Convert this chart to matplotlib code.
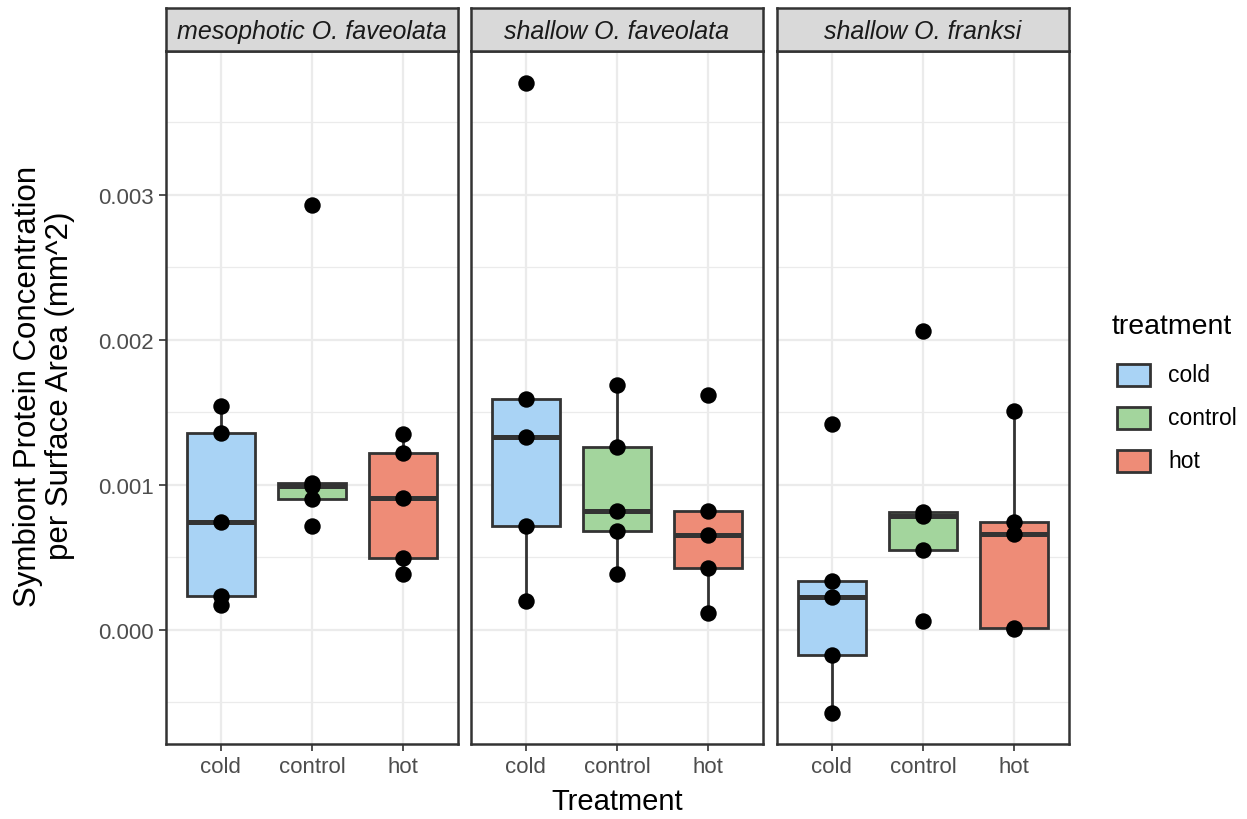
import numpy as np
import matplotlib
matplotlib.use("Agg")
import matplotlib.pyplot as plt
from matplotlib.patches import Rectangle

plt.rcParams['font.family'] = ['Liberation Sans', 'DejaVu Sans']

# data (units of mg/mm^2)
species = ['mesophotic O. faveolata', 'shallow O. faveolata', 'shallow O. franksi']
treatments = ['cold', 'control', 'hot']

meso_fav = {
    'cold': [0.00154, 0.00136, 0.00074, 0.000234, 0.00017],
    'control': [0.00293, 0.00101, 0.00099, 0.000899, 0.000714],
    'hot': [0.00135, 0.00122, 0.000906, 0.000493, 0.000382],
}
shal_fav = {
    'cold': [0.00377, 0.00159, 0.00133, 0.000716, 0.000197],
    'control': [0.00169, 0.00126, 0.000821, 0.000681, 0.000382],
    'hot': [0.00162, 0.000821, 0.000654, 0.000427, 0.000119],
}
shal_fra = {
    'cold': [0.00142, 0.000338, 0.000223, -0.000172, -0.00057],
    'control': [0.00206, 0.000809, 0.000786, 0.000547, 0.000064],
    'hot': [0.00151, 0.000743, 0.00066, 0.000016, 0.000008],
}
panels = [meso_fav, shal_fav, shal_fra]

fills = {'cold': '#a9d3f5', 'control': '#a3d59d', 'hot': '#ee8c77'}
dark = '#333333'
grid_c = '#ebebeb'

W, H = 1247, 820
fig = plt.figure(figsize=(W / 100, H / 100), dpi=100)

def box(x0, y0, x1, y1):
    return [x0 / W, 1 - y1 / H, (x1 - x0) / W, (y1 - y0) / H]

lefts = [166, 471, 777]
pw = 292
ptop, pbot = 52, 745
stop = 9

ylo, yhi = -0.000787, 0.003990

for i, (name, data) in enumerate(zip(species, panels)):
    x0 = lefts[i]
    ax = fig.add_axes(box(x0, ptop, x0 + pw, pbot))

    vals = [data[t] for t in treatments]
    bp = ax.boxplot(vals, positions=[1, 2, 3], widths=0.75, whis=1.5,
                    patch_artist=True, showfliers=False, showcaps=False,
                    medianprops=dict(color=dark, lw=3.6, solid_capstyle='butt'),
                    whiskerprops=dict(color=dark, lw=2.0),
                    boxprops=dict(edgecolor=dark, lw=2.0), zorder=2)
    for patch, t in zip(bp['boxes'], treatments):
        patch.set_facecolor(fills[t])
    for k, t in enumerate(treatments):
        ax.scatter([k + 1] * len(data[t]), data[t], s=140, color='black',
                   zorder=4, linewidths=0)

    ax.set_xlim(0.4, 3.6)
    ax.set_ylim(ylo, yhi)
    ax.set_yticks([0, 0.001, 0.002, 0.003])
    ax.set_yticks(np.arange(-0.0005, 0.004, 0.001), minor=True)
    ax.set_xticks([1, 2, 3])
    ax.set_xticklabels(treatments)
    ax.grid(True, which='major', color=grid_c, lw=1.6, zorder=0)
    ax.grid(True, which='minor', axis='y', color=grid_c, lw=0.9, zorder=0)
    ax.set_axisbelow(True)
    for s in ax.spines.values():
        s.set_color(dark)
        s.set_linewidth(1.8)
    ax.tick_params(axis='both', which='major', colors=dark, labelcolor='#4d4d4d',
                   labelsize=16, length=5, width=1.2, pad=4)
    ax.tick_params(axis='y', which='minor', length=0)
    if i == 0:
        ax.yaxis.set_major_formatter(matplotlib.ticker.FormatStrFormatter('%.3f'))
    else:
        ax.tick_params(axis='y', which='major', length=0, labelleft=False)

    # facet strip
    sax = fig.add_axes(box(x0, stop, x0 + pw, ptop))
    sax.set_xticks([])
    sax.set_yticks([])
    sax.set_facecolor('#d9d9d9')
    for s in sax.spines.values():
        s.set_color(dark)
        s.set_linewidth(1.8)
    sax.text(0.5, 0.47, name, transform=sax.transAxes, ha='center', va='center',
             fontsize=18, style='italic', color='#1a1a1a')

fig.text(44 / W, 1 - 386 / H,
         'Symbiont Protein Concentration\nper Surface Area (mm^2)',
         rotation=90, ha='center', va='center', fontsize=22.5, linespacing=1.05)
fig.text(((166 + 1069) / 2) / W, 1 - 802 / H, 'Treatment',
         ha='center', va='center', fontsize=21)

# legend
fig.text(1112 / W, 1 - 327 / H, 'treatment', ha='left', va='center', fontsize=20.5)
for k, t in enumerate(treatments):
    yc = 376 + k * 43
    fig.patches.append(Rectangle((1117 / W, 1 - (yc + 11) / H), 33 / W, 22 / H,
                                 transform=fig.transFigure, facecolor=fills[t],
                                 edgecolor=dark, lw=2.0))
    fig.text(1168 / W, 1 - yc / H, t, ha='left', va='center', fontsize=16.5)

fig.savefig('out.png', dpi=100)
